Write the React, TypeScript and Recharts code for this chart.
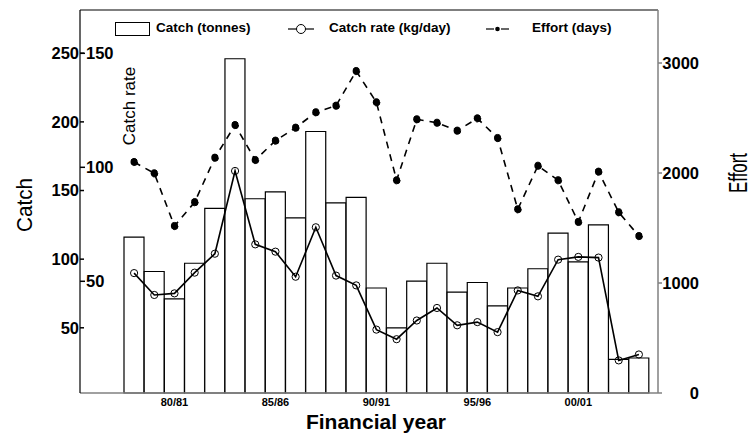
import React from "react";
import {
	ComposedChart,
	Bar,
	Line,
	XAxis,
	YAxis,
	Label,
} from "recharts";

const years = [
	"78/79", "79/80", "80/81", "81/82", "82/83", "83/84", "84/85", "85/86", "86/87",
	"87/88", "88/89", "89/90", "90/91", "91/92", "92/93", "93/94", "94/95", "95/96",
	"96/97", "97/98", "98/99", "99/00", "00/01", "01/02", "02/03", "03/04",
];

// tonnes
const catchTonnes = [
	116, 91, 71, 97, 137, 246, 144, 149, 130, 193, 141, 145, 79,
	50, 84, 97, 76, 83, 66, 79, 93, 119, 98, 125, 27, 28,
];

// kg/day
const catchRate = [
	53.6, 44, 44.7, 53.8, 62.1, 98.4, 66.2, 63, 52, 73.7, 52.5, 48.2, 28.8,
	24.6, 32.8, 38.3, 30.7, 32.1, 27.7, 46, 43.4, 59.5, 60.7, 60.4, 15.3, 17.9,
];

// days
const effortDays = [
	2100, 1997, 1518, 1735, 2139, 2436, 2118, 2294, 2412, 2552, 2612, 2927, 2643,
	1934, 2488, 2457, 2385, 2497, 2318, 1670, 2066, 1934, 1555, 2012, 1643, 1427,
];

const yearTicks = ["80/81", "85/86", "90/91", "95/96", "00/01"];
const catchTicks = [50, 100, 150, 200, 250];
const rateTicks = [50, 100, 150];
const effortTicks = [0, 1000, 2000, 3000];

const rows = years.map((year, i) => ({
	year,
	catch: catchTonnes[i],
	rate: catchRate[i],
	effort: effortDays[i],
}));

const W = 755;
const H = 434;
const LEFT = 80;
const RIGHT = 658;
const TOP = 10;
const BOTTOM = 393;
const FONT = "'Liberation Sans', Arial, sans-serif";

const CatchTick = (props: any) => (
	<g>
		<line x1={LEFT} x2={LEFT + 4} y1={props.y} y2={props.y} stroke="#000" strokeWidth={1.5} />
		<text
			x={LEFT - 1}
			y={props.y}
			dy="0.36em"
			textAnchor="end"
			fontSize={16.5}
			fontWeight="bold"
			fontFamily={FONT}
			fill="#000">
			{props.payload.value}
		</text>
	</g>
);

const RateTick = (props: any) => (
	<g>
		<line x1={LEFT} x2={LEFT + 5} y1={props.y} y2={props.y} stroke="#000" strokeWidth={1.5} />
		<text
			x={LEFT + 6}
			y={props.y}
			dy="0.36em"
			textAnchor="start"
			fontSize={16.5}
			fontWeight="bold"
			fontFamily={FONT}
			fill="#000">
			{props.payload.value}
		</text>
	</g>
);

const EffortTick = (props: any) => (
	<g>
		<line x1={RIGHT} x2={RIGHT + 4} y1={props.y} y2={props.y} stroke="#808080" strokeWidth={1.5} />
		<text
			x={699}
			y={props.y}
			dy="0.36em"
			textAnchor="end"
			fontSize={16.5}
			fontWeight="bold"
			fontFamily={FONT}
			fill="#000">
			{props.payload.value}
		</text>
	</g>
);

const YearTick = (props: any) => {
	if (!yearTicks.includes(props.payload.value)) return <g />;
	return (
		<text
			x={props.x}
			y={BOTTOM + 13}
			textAnchor="middle"
			fontSize={11}
			fontWeight="bold"
			fontFamily={FONT}
			fill="#000">
			{props.payload.value}
		</text>
	);
};

const legendText: React.CSSProperties = {
	position: "absolute",
	top: 20,
	fontSize: 13.5,
	fontWeight: "bold",
	fontFamily: FONT,
	lineHeight: "16px",
	whiteSpace: "nowrap",
	color: "#000",
};

function ChartLegend() {
	return (
		<div style={{ position: "absolute", left: 0, top: 0, width: W, height: 40 }}>
			<svg style={{ position: "absolute", left: 115, top: 22 }} width={36} height={14}>
				<rect x={0.5} y={0.5} width={34} height={13} fill="#fff" stroke="#000" strokeWidth={1} />
			</svg>
			<span style={{ ...legendText, left: 156 }}>Catch (tonnes)</span>
			<svg style={{ position: "absolute", left: 288, top: 22 }} width={26} height={14}>
				<line x1={0} x2={26} y1={7} y2={7} stroke="#000" strokeWidth={1.2} />
				<circle cx={13} cy={7} r={4.5} fill="#fff" stroke="#000" strokeWidth={1} />
			</svg>
			<span style={{ ...legendText, left: 329 }}>Catch rate (kg/day)</span>
			<svg style={{ position: "absolute", left: 486, top: 22 }} width={24} height={14}>
				<line x1={0} x2={8} y1={7} y2={7} stroke="#000" strokeWidth={1.2} />
				<circle cx={11.5} cy={7} r={2.3} fill="#000" />
				<line x1={15} x2={23} y1={7} y2={7} stroke="#000" strokeWidth={1.2} />
			</svg>
			<span style={{ ...legendText, left: 532 }}>Effort (days)</span>
		</div>
	);
}

export default function App() {
	return (
		<div
			style={{
				position: "absolute",
				left: 0,
				top: 0,
				width: W,
				height: H,
				background: "#fff",
			}}>
			<ComposedChart
				width={W}
				height={H}
				data={rows}
				margin={{ top: TOP - 5, right: W - RIGHT - 40, bottom: H - BOTTOM - 20, left: LEFT - 60 }}
				barCategoryGap={0}
				barGap={0}>
				<XAxis
					xAxisId="x"
					dataKey="year"
					interval={0}
					padding={{ left: 44, right: 9 }}
					height={20}
					tickLine={false}
					axisLine={{ stroke: "#808080", strokeWidth: 1.5 }}
					tick={<YearTick />}>
					<Label
						content={() => (
							<text
								x={376}
								y={422}
								dy="0.35em"
								textAnchor="middle"
								fontSize={21}
								fontWeight="bold"
								fontFamily={FONT}
								fill="#000">
								Financial year
							</text>
						)}
					/>
				</XAxis>
				<XAxis
					xAxisId="top"
					dataKey="year"
					orientation="top"
					padding={{ left: 44, right: 9 }}
					height={5}
					tick={false}
					tickLine={false}
					axisLine={{ stroke: "#000", strokeWidth: 1.2 }}
				/>
				<YAxis
					yAxisId="catch"
					orientation="left"
					width={40}
					domain={[2.5, 281.5]}
					ticks={catchTicks}
					tickLine={false}
					axisLine={{ stroke: "#000", strokeWidth: 1.2 }}
					tick={<CatchTick />}>
					<Label
						content={() => (
							<text
								x={24}
								y={205}
								dy="0.35em"
								textAnchor="middle"
								fontSize={22}
								textLength={54}
								lengthAdjust="spacingAndGlyphs"
								fontFamily={FONT}
								fill="#000"
								transform="rotate(-90 24 205)">
								Catch
							</text>
						)}
					/>
				</YAxis>
				<YAxis
					yAxisId="rate"
					orientation="left"
					width={20}
					domain={[1, 169]}
					ticks={rateTicks}
					tickLine={false}
					axisLine={false}
					tick={<RateTick />}>
					<Label
						content={() => (
							<text
								x={129}
								y={106}
								dy="0.35em"
								textAnchor="middle"
								fontSize={17}
								fontFamily={FONT}
								fill="#000"
								transform="rotate(-90 129 106)">
								Catch rate
							</text>
						)}
					/>
				</YAxis>
				<YAxis
					yAxisId="effort"
					orientation="right"
					width={40}
					domain={[0, 3482]}
					ticks={effortTicks}
					tickLine={false}
					axisLine={{ stroke: "#808080", strokeWidth: 1.5 }}
					tick={<EffortTick />}>
					<Label
						content={() => (
							<text
								x={738}
								y={173}
								dy="0.35em"
								textAnchor="middle"
								fontSize={26}
								textLength={40}
								lengthAdjust="spacingAndGlyphs"
								fontFamily={FONT}
								fill="#000"
								transform="rotate(-90 738 173)">
								Effort
							</text>
						)}
					/>
				</YAxis>
				<Bar
					xAxisId="x"
					yAxisId="catch"
					dataKey="catch"
					name="Catch (tonnes)"
					fill="#fff"
					stroke="#000"
					strokeWidth={1.2}
					isAnimationActive={false}
				/>
				<Line
					xAxisId="x"
					yAxisId="rate"
					type="linear"
					dataKey="rate"
					name="Catch rate (kg/day)"
					stroke="#000"
					strokeWidth={1.6}
					dot={{ r: 3.6, fill: "none", stroke: "#000", strokeWidth: 1 }}
					activeDot={false}
					isAnimationActive={false}
				/>
				<Line
					xAxisId="x"
					yAxisId="effort"
					type="linear"
					dataKey="effort"
					name="Effort (days)"
					stroke="#000"
					strokeWidth={1.6}
					strokeDasharray="7 6"
					dot={{ r: 3.6, fill: "#000", stroke: "#000", strokeWidth: 1 }}
					activeDot={false}
					isAnimationActive={false}
				/>
			</ComposedChart>
			<ChartLegend />
		</div>
	);
}
